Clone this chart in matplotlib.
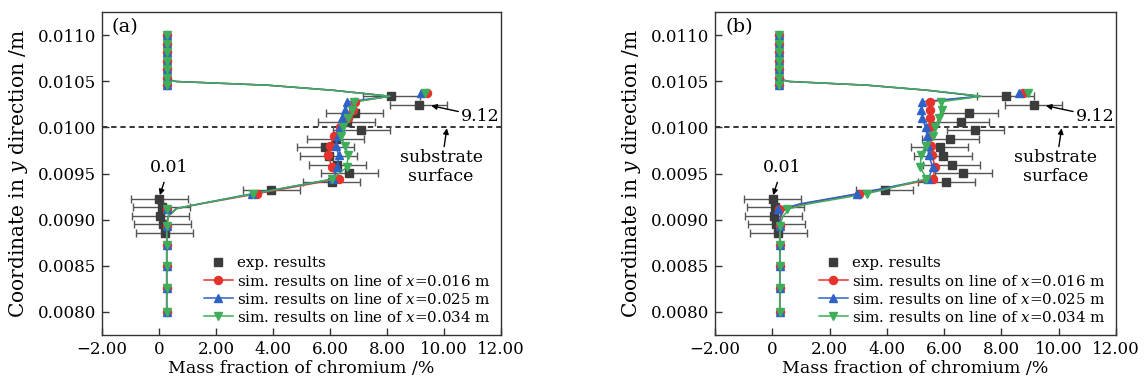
import matplotlib
matplotlib.use("Agg")
import matplotlib.pyplot as plt

plt.rcParams['font.family'] = ['DejaVu Serif']
plt.rcParams['mathtext.fontset'] = 'dejavuserif'

# ---------------- data ----------------
x_ticks = [-2, 0, 2, 4, 6, 8, 10, 12]
x_tick_labels = ['\u22122.00', '0', '2.00', '4.00', '6.00', '8.00', '10.00', '12.00']
y_ticks = [0.0080, 0.0085, 0.0090, 0.0095, 0.0100, 0.0105, 0.0110]
y_tick_labels = ['0.0080', '0.0085', '0.0090', '0.0095', '0.0100', '0.0105', '0.0110']

# experimental results (same for both panels)
exp_y = [0.010337, 0.010245, 0.010152, 0.010060, 0.009967, 0.009875, 0.009782,
         0.009690, 0.009597, 0.009505, 0.009412, 0.009320, 0.009227, 0.009135,
         0.009042, 0.008950, 0.008857]
exp_x = [8.15, 9.12, 6.87, 6.58, 7.09, 6.21, 5.84, 5.96, 6.26, 6.67, 6.07, 3.93,
         0.01, 0.10, 0.05, 0.14, 0.21]
exp_err = [1.0] * 17

# simulated marker positions (y grid)
sim_y = [0.01100, 0.010908, 0.010815, 0.010722, 0.01063, 0.010538, 0.010457,
         0.01037, 0.01028, 0.01019, 0.01010, 0.01000, 0.00991, 0.00980, 0.00970,
         0.00957, 0.00944, 0.00928,
         0.00912, 0.00893, 0.00872, 0.00850, 0.00826, 0.00800]

# panel (a) markers
a_red_x = [0.27] * 7 + [9.42, 6.88, 6.82, 6.64, 6.35, 6.15, 6.00, 5.94, 6.06, 6.33, 3.43] + [0.28] * 6
a_blue_x = [0.27] * 7 + [9.20, 6.61, 6.53, 6.43, 6.35, 6.27, 6.21, 6.30, 6.26, 6.12, 3.25] + [0.28] * 6
a_green_x = [0.27] * 7 + [9.35, 6.85, 6.76, 6.64, 6.47, 6.37, 6.53, 6.64, 6.59, 6.08, 3.31] + [0.28] * 6

# curve y positions (shared)
curve_y = [0.01100, 0.01052, 0.010497, 0.010457, 0.010402, 0.010337, 0.01028, 0.01019, 0.01010,
           0.01000, 0.00991, 0.00980, 0.00970, 0.00957, 0.00944, 0.00928, 0.00917, 0.00912,
           0.00904, 0.00895, 0.00800]

# panel (a) curves
a_red_lx = [0.27, 0.27, 0.60, 3.80, 6.10, 8.10, 6.90, 6.82, 6.64, 6.35, 6.15, 6.00, 5.94, 6.06, 6.25,
            3.43, 1.45, 0.62, 0.33, 0.27, 0.27]
a_blue_lx = [0.27, 0.27, 0.60, 3.80, 6.10, 8.10, 6.70, 6.53, 6.43, 6.35, 6.27, 6.21, 6.30, 6.26, 6.12,
             3.25, 1.40, 0.60, 0.33, 0.27, 0.27]
a_green_lx = [0.27, 0.27, 0.60, 3.80, 6.10, 8.10, 6.95, 6.76, 6.64, 6.47, 6.37, 6.53, 6.64, 6.59, 6.08,
              3.31, 1.42, 0.62, 0.33, 0.27, 0.27]

# panel (b) markers
b_red_x = [0.25] * 7 + [8.76, 5.49, 5.50, 5.52, 5.50, 5.52, 5.55, 5.58, 5.68, 5.61, 3.04] + [0.22, 0.26, 0.26, 0.26, 0.26, 0.26]
b_blue_x = [0.25] * 7 + [8.61, 5.22, 5.20, 5.22, 5.36, 5.40, 5.42, 5.46, 5.60, 5.45, 2.95] + [0.20, 0.26, 0.26, 0.26, 0.26, 0.26]
b_green_x = [0.25] * 7 + [8.94, 5.90, 5.93, 5.81, 5.69, 5.62, 5.35, 5.19, 5.17, 5.38, 3.30] + [0.52, 0.26, 0.26, 0.26, 0.26, 0.26]

# panel (b) curves
b_red_lx = [0.25, 0.25, 0.60, 3.30, 5.40, 7.25, 5.55, 5.50, 5.52, 5.50, 5.52, 5.55, 5.58, 5.68, 5.61,
            3.04, 1.05, 0.45, 0.30, 0.26, 0.26]
b_blue_lx = [0.25, 0.25, 0.60, 3.30, 5.40, 7.25, 5.30, 5.20, 5.22, 5.36, 5.40, 5.42, 5.46, 5.60, 5.45,
             2.95, 0.95, 0.40, 0.28, 0.26, 0.26]
b_green_lx = [0.25, 0.25, 0.60, 3.30, 5.45, 7.30, 5.95, 5.93, 5.81, 5.69, 5.62, 5.35, 5.19, 5.17, 5.38,
              3.30, 1.25, 0.62, 0.38, 0.27, 0.26]

legend_labels = ['exp. results',
                 'sim. results on line of $x$=0.016 m',
                 'sim. results on line of $x$=0.025 m',
                 'sim. results on line of $x$=0.034 m']

# ---------------- style ----------------
RED = '#e5322d'
BLUE = '#2e63c6'
GREEN = '#3fae5a'
EXP = '#3c3c3c'

fig = plt.figure(figsize=(11.48, 3.83), dpi=100)
axA = fig.add_axes([102 / 1148, 1 - 335 / 383, 399 / 1148, 323 / 383])
axB = fig.add_axes([715 / 1148, 1 - 335 / 383, 401 / 1148, 323 / 383])


def draw(ax, rx, bx, gx, rlx, blx, glx, tag):
    ax.axhline(0.0100, color='black', lw=1.1, ls=(0, (3.5, 2.5)), zorder=1)
    ax.errorbar(exp_x, exp_y, xerr=exp_err, fmt='s', color=EXP, ecolor='#555555',
                elinewidth=1.0, capsize=2.8, capthick=1.0, markersize=5.5, zorder=3)
    ax.plot(rlx, curve_y, color=RED, lw=1.1, zorder=4)
    ax.plot(blx, curve_y, color=BLUE, lw=1.1, zorder=4)
    ax.plot(glx, curve_y, color=GREEN, lw=1.1, zorder=4)
    ax.plot(rx, sim_y, 'o', color=RED, markersize=5.8, zorder=5)
    ax.plot(bx, sim_y, '^', color=BLUE, markersize=6.2, zorder=6)
    ax.plot(gx, sim_y, 'v', color=GREEN, markersize=6.2, zorder=7)
    # legend proxies
    h0, = ax.plot([], [], 's', color=EXP, markersize=5.5)
    h1, = ax.plot([], [], '-o', color=RED, lw=1.1, markersize=5.8)
    h2, = ax.plot([], [], '-^', color=BLUE, lw=1.1, markersize=6.2)
    h3, = ax.plot([], [], '-v', color=GREEN, lw=1.1, markersize=6.2)
    ax.legend([h0, h1, h2, h3], legend_labels, loc='lower right', frameon=False,
              fontsize=10.8, handlelength=1.9, handletextpad=0.3, labelspacing=0.2,
              borderaxespad=0.3, bbox_to_anchor=(1.0, 0.0))

    ax.set_xlim(-2, 12)
    ax.set_ylim(0.00775, 0.01125)
    ax.set_xticks(x_ticks)
    ax.set_xticklabels(x_tick_labels)
    ax.set_yticks(y_ticks)
    ax.set_yticklabels(y_tick_labels)
    ax.tick_params(direction='in', length=5, width=1, labelsize=12, color='#333333',
                   top=False, right=False, pad=4)
    for s in ax.spines.values():
        s.set_linewidth(1.0)
        s.set_color('#333333')
    ax.set_xlabel('Mass fraction of chromium /%', fontsize=12.5, labelpad=2)
    ax.set_ylabel('Coordinate in $y$ direction /m', fontsize=14.5, labelpad=6)

    ax.text(0.025, 0.98, tag, transform=ax.transAxes, fontsize=14, va='top', ha='left')
    # annotations
    ax.annotate('9.12', xy=(9.55, 0.010235), xytext=(10.6, 0.01012),
                fontsize=12.5, va='center', ha='left',
                arrowprops=dict(arrowstyle='-|>', color='black', lw=1.0,
                                mutation_scale=8, shrinkA=0, shrinkB=0))
    ax.annotate('0.01', xy=(0.03, 0.009265), xytext=(0.35, 0.00957),
                fontsize=12.5, va='center', ha='center',
                arrowprops=dict(arrowstyle='-|>', color='black', lw=1.0,
                                mutation_scale=8, shrinkA=3, shrinkB=0))
    ax.annotate('substrate\nsurface', xy=(10.1, 0.00999), xytext=(9.9, 0.00957),
                fontsize=12.5, va='center', ha='center', linespacing=1.1,
                arrowprops=dict(arrowstyle='-|>', color='black', lw=1.0,
                                mutation_scale=8, shrinkA=14, shrinkB=0))


draw(axA, a_red_x, a_blue_x, a_green_x, a_red_lx, a_blue_lx, a_green_lx, '(a)')
draw(axB, b_red_x, b_blue_x, b_green_x, b_red_lx, b_blue_lx, b_green_lx, '(b)')

fig.savefig('out.png', dpi=100)
